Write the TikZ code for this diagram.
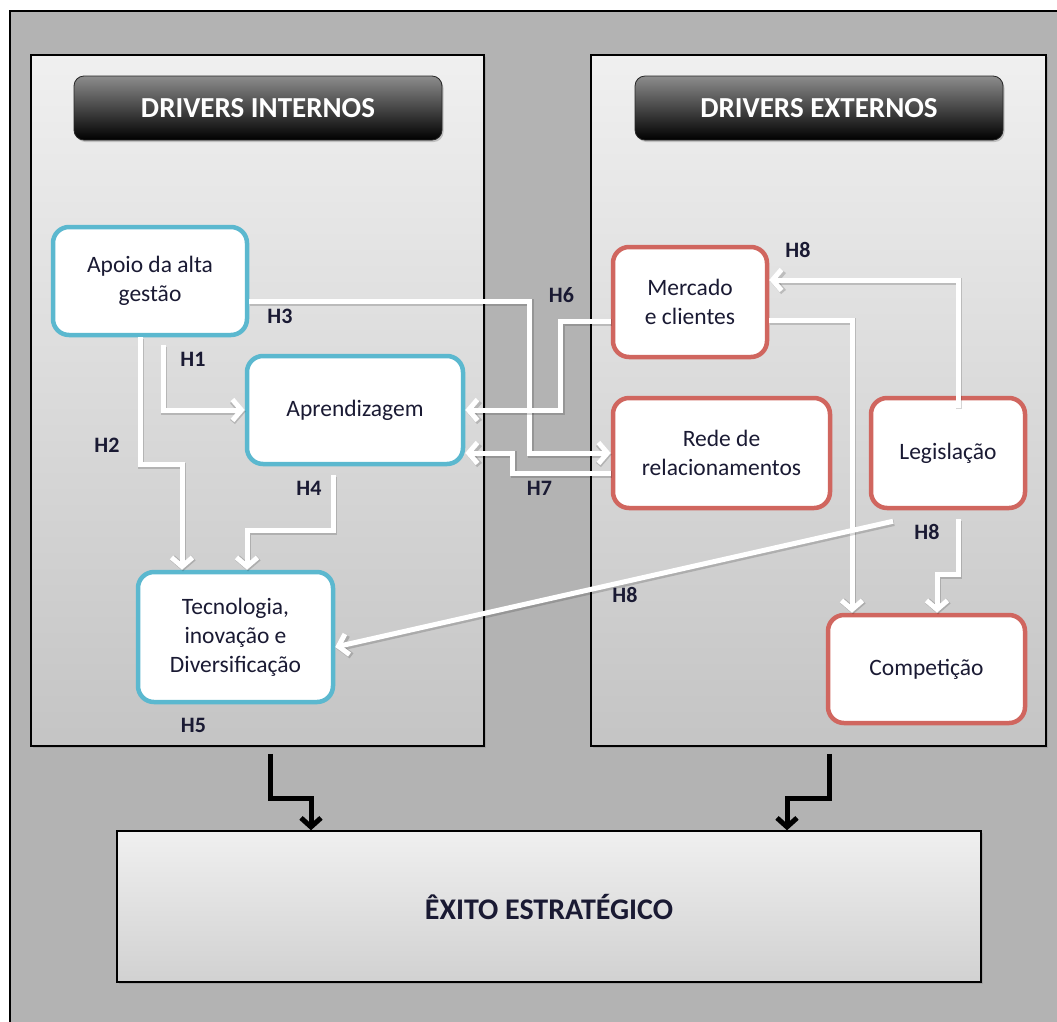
\documentclass[tikz,border=0pt]{standalone}
\usepackage{fontspec}
\setmainfont{Carlito}
\usetikzlibrary{arrows.meta,calc,shadows}

\definecolor{framegray}{HTML}{B3B3B3}
\definecolor{intborder}{HTML}{5BB8CF}
\definecolor{extborder}{HTML}{D0665F}
\definecolor{ink}{HTML}{1A1A33}

\tikzset{
  panel/.style={rectangle, draw=black, line width=1.5pt, inner sep=0pt,
    top color=black!6, bottom color=black!23,
    drop shadow={opacity=0.35, shadow xshift=2pt, shadow yshift=-2pt}},
  header/.style={rectangle, rounded corners=10pt, draw=black!85, line width=0.8pt,
    top color=black!45, bottom color=black, text=white, inner sep=0pt,
    minimum width=368pt, minimum height=64pt,
    font=\bfseries\fontsize{29}{32}\selectfont,
    drop shadow={opacity=0.4, shadow xshift=1.5pt, shadow yshift=-2pt}},
  driver/.style={rectangle, rounded corners=16pt, fill=white, line width=4.5pt,
    inner sep=0pt, align=center, text=ink,
    font=\fontsize{23.5}{29}\selectfont},
  intbox/.style={driver, draw=intborder},
  extbox/.style={driver, draw=extborder},
  goal/.style={rectangle, draw=black, line width=1.5pt, inner sep=0pt,
    top color=black!6, bottom color=black!18, text=ink,
    font=\bfseries\fontsize{30}{33}\selectfont,
    drop shadow={opacity=0.35, shadow xshift=2pt, shadow yshift=-2pt}},
  hlabel/.style={inner sep=0pt, text=ink, font=\bfseries\fontsize{22}{24}\selectfont},
  conn/.style={draw=white, line width=5pt,
    -{Straight Barb[length=9pt,width=21pt]},
    preaction={draw=black, opacity=0.16, line width=6.5pt,
      transform canvas={xshift=1pt,yshift=-1.5pt}}},
  outcome/.style={draw=black, line width=5pt,
    -{Straight Barb[length=9pt,width=20pt]}}
}

\begin{document}
\begin{tikzpicture}[x=1pt,y=-1pt]
  \useasboundingbox (0,0) rectangle (1057,1021);
  \fill[white] (0,0) rectangle (1057,1021);
  % outer frame
  \fill[framegray] (10,11) rectangle (1070,1030);
  \draw[line width=1.2pt] (10,1030) -- (10,11) -- (1070,11);

  % the two driver panels
  \node[panel, minimum width=453pt, minimum height=691pt] (lpanel) at (257.5,400.5) {};
  \node[panel, minimum width=455pt, minimum height=691pt] (rpanel) at (818.5,400.5) {};

  \node[header] (hint) at (258,108) {DRIVERS INTERNOS};
  \node[header] (hext) at (819,108) {DRIVERS EXTERNOS};

  % internal drivers
  \node[intbox, minimum width=194pt, minimum height=108pt] (apoio) at (150,281)
    {Apoio da alta\\gestão};
  \node[intbox, minimum width=216pt, minimum height=108pt] (aprend) at (355,410)
    {Aprendizagem};
  \node[intbox, minimum width=195pt, minimum height=130pt] (tecno) at (235.5,637)
    {Tecnologia,\\inovação e\\Diversificação};

  % external drivers
  \node[extbox, minimum width=154pt, minimum height=110pt] (mercado) at (690,302)
    {Mercado\\e clientes};
  \node[extbox, minimum width=217pt, minimum height=110pt] (rede) at (721.5,453)
    {Rede de\\relacionamentos};
  \node[extbox, minimum width=154pt, minimum height=110pt] (legis) at (948,453)
    {Legislação};
  \node[extbox, minimum width=197pt, minimum height=108pt] (compet) at (926.5,669)
    {Competição};

  % outcome
  \node[goal, minimum width=864pt, minimum height=151pt] (exito) at (549,906.5)
    {ÊXITO ESTRATÉGICO};

  % hypotheses connectors
  \draw[conn] ($(apoio.south)+(13,8)$) |- (aprend.west);                       % H1
  \draw[conn] ($(apoio.south)+(-10,0)$) -- ++(0,127) -| ($(tecno.north)+(-53.5,0)$); % H2
  \draw[conn] ($(apoio.east)+(0,20)$) -| ($(rede.west)+(-81,0)$) -- (rede.west);  % H3
  \draw[conn] ($(aprend.south)+(-22,9)$) -- ++(0,55) -| ($(tecno.north)+(11.5,0)$); % H4
  \draw[conn] ($(mercado.west)+(0,19)$) -- ++(-50,0) |- (aprend.east);           % H6
  \draw[conn] ($(rede.west)+(0,20)$) -- ++(-98,0) |- ($(aprend.east)+(0,43)$);   % H7
  \draw[conn] ($(legis.north)+(10,12)$) |- ($(mercado.east)+(0,-22)$);           % H8
  \draw[conn] ($(mercado.east)+(0,18)$) -| ($(compet.north)+(-74.5,0)$);
  \draw[conn] ($(legis.south)+(10,9)$) -- ++(0,55) -| ($(compet.north)+(10.5,0)$); % H8
  \draw[conn] ($(legis.south)+(-55,11)$) -- ($(tecno.east)+(0,10)$);             % H8

  % hypothesis labels
  \node[hlabel] (h1) at (193,359) {H1};
  \node[hlabel] (h2) at (107,445) {H2};
  \node[hlabel] (h3) at (280,316) {H3};
  \node[hlabel] (h4) at (309,488) {H4};
  \node[hlabel] (h5) at (193.5,725) {H5};
  \node[hlabel] (h6) at (561.5,295) {H6};
  \node[hlabel] (h7) at (539.5,488) {H7};
  \node[hlabel] (h8a) at (798,250) {H8};
  \node[hlabel] (h8b) at (927,532) {H8};
  \node[hlabel] (h8c) at (625,595) {H8};

  % panels feeding the outcome
  \draw[outcome] ($(lpanel.south)+(12.5,7)$) -- ++(0,45) -| ($(exito.north)+(-238,0)$);
  \draw[outcome] ($(rpanel.south)+(10.5,7)$) -- ++(0,45) -| ($(exito.north)+(238,0)$);
\end{tikzpicture}
\end{document}
